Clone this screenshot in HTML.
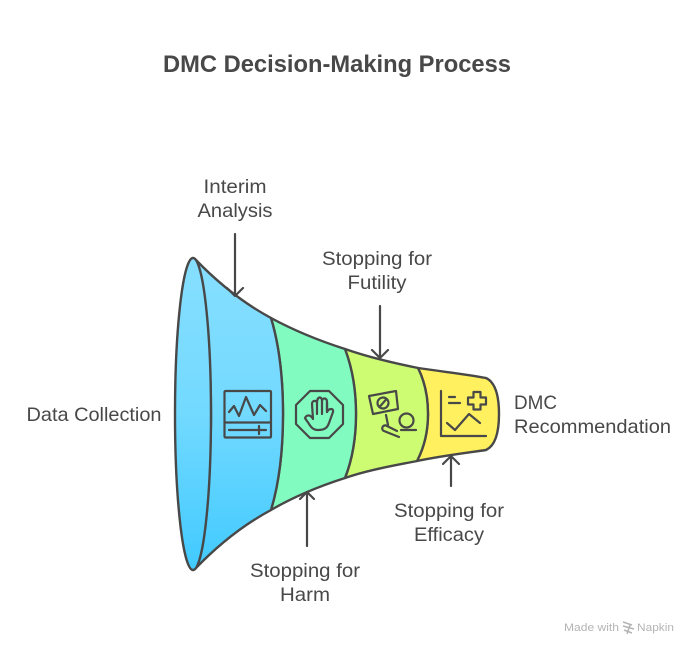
<!DOCTYPE html>
<html><head><meta charset="utf-8"><style>
html,body{margin:0;padding:0;background:#fff}
svg{display:block}
text{font-family:"Liberation Sans",sans-serif;fill:#484848;font-size:19.5px}
</style></head><body>
<svg width="698" height="654" viewBox="0 0 698 654" xmlns="http://www.w3.org/2000/svg">
<defs>
<linearGradient id="b" x1="0" y1="0" x2="0" y2="1"><stop offset="0" stop-color="#87dfff"/><stop offset="0.5" stop-color="#72d9ff"/><stop offset="1" stop-color="#41caff"/></linearGradient>
</defs>
<text x="337" y="72" text-anchor="middle" style="font-size:24.5px;font-weight:700" textLength="348" lengthAdjust="spacingAndGlyphs">DMC Decision-Making Process</text>

<g stroke="#484848" stroke-width="2.4" stroke-linejoin="round" stroke-linecap="round">
<path d="M418 368 C445 372 465 374 486 378 Q499 384 499 414 Q499 444 486 450 C465 453 440 456 417 461 Q428 440 428 414 Q428 388 418 368Z" fill="#fff05f"/>
<path d="M345 349 C368 357 393 363 418 368 Q428 388 428 414 Q428 440 417 461 C392 466 368 470 345 478 Q356 450 356 414 Q356 378 345 349Z" fill="#cdfc73"/>
<path d="M271 318 C295 331 320 341 345 349 Q356 378 356 414 Q356 450 345 478 C320 486 295 496 271 510 Q283 470 283 414 Q283 358 271 318Z" fill="#81fbc0"/>
<path d="M195 259 C220 285 245 304 271 318 Q283 358 283 414 Q283 470 271 510 C245 524 220 543 195 569 Q211 500 211 414 Q211 328 195 259Z" fill="url(#b)"/>
<ellipse cx="193" cy="414" rx="18" ry="156" fill="url(#b)"/>
</g>

<g fill="none" stroke="#484848" stroke-width="2.2" stroke-linecap="round" stroke-linejoin="round">
<path d="M235 234V295M227 288L235 296L243 288"/>
<path d="M380 306V358M372 350L380 358L388 350"/>
<path d="M307 546V492M300 499L307 492L314 499"/>
<path d="M451 486V456M443 464L451 456L459 464"/>

<!-- monitor icon -->
<rect x="224.500" y="391" width="46.500" height="46.500" rx="1"/>
<path d="M224.500 422.500H271"/>
<path d="M229 412L234 406L239 416L246 397L254 415L260 405L266 411"/>
<path d="M229 430H266M259 426V434"/>

<!-- stop hand icon -->
<path d="M310 391H329L343 405V424L329 438H310L296 424V405Z"/>
<path d="M305 418C307 414 311 415 313 419L312 404C312 400 317 400 317 403C317 396 322 396 322 401C323 397 327 398 327 402L327 412C329 408 334 408 333 412L329 423C327 429 323 430 318 430C313 430 311 427 309 424C308 422 306 420 305 418Z"/>
<path d="M317 403V414M322 401V414M327 402V412"/>

<!-- sign icon -->
<path d="M369 396L396 391L398 409L373 414Z"/>
<circle cx="383" cy="403" r="5.500"/><path d="M379.500 407L386.500 399"/>
<path d="M386 415L388 425"/>
<circle cx="406.500" cy="420.500" r="7"/>
<path d="M401 430H416M386 425.500L397 431M384 431L399 437M386 425.500C382 424.500 381 430 384 431"/>

<!-- chart icon -->
<path d="M441 391V436H486"/>
<path d="M449 397H455M449 403H460"/>
<path d="M473.500 392H480.500V397.500H486V404.500H480.500V409.500H473.500V404.500H468V397.500H473.500Z"/>
<path d="M447 423L455 430L469 414L480 423"/>
</g>

<text x="235" y="193" text-anchor="middle" textLength="63" lengthAdjust="spacingAndGlyphs">Interim</text>
<text x="235" y="217" text-anchor="middle" textLength="75" lengthAdjust="spacingAndGlyphs">Analysis</text>
<text x="377" y="265" text-anchor="middle" textLength="110" lengthAdjust="spacingAndGlyphs">Stopping for</text>
<text x="377" y="289" text-anchor="middle" textLength="59" lengthAdjust="spacingAndGlyphs">Futility</text>
<text x="94" y="421" text-anchor="middle" textLength="135" lengthAdjust="spacingAndGlyphs">Data Collection</text>
<text x="514" y="409" textLength="43" lengthAdjust="spacingAndGlyphs">DMC</text>
<text x="514" y="433" textLength="157" lengthAdjust="spacingAndGlyphs">Recommendation</text>
<text x="449" y="517" text-anchor="middle" textLength="110" lengthAdjust="spacingAndGlyphs">Stopping for</text>
<text x="449" y="541" text-anchor="middle" textLength="70" lengthAdjust="spacingAndGlyphs">Efficacy</text>
<text x="305" y="577" text-anchor="middle" textLength="110" lengthAdjust="spacingAndGlyphs">Stopping for</text>
<text x="305" y="601" text-anchor="middle" textLength="50" lengthAdjust="spacingAndGlyphs">Harm</text>

<text x="564" y="631" style="font-size:11px;fill:#b4b4b4" textLength="55" lengthAdjust="spacingAndGlyphs">Made with</text>
<path d="M623 622L632 625M623 626L634 629M624 630L632 633M627 634L630 625" fill="none" stroke="#b4b4b4" stroke-width="1.500"/>
<text x="637" y="631" style="font-size:11px;fill:#b4b4b4" textLength="37" lengthAdjust="spacingAndGlyphs">Napkin</text>
</svg>
</body></html>
